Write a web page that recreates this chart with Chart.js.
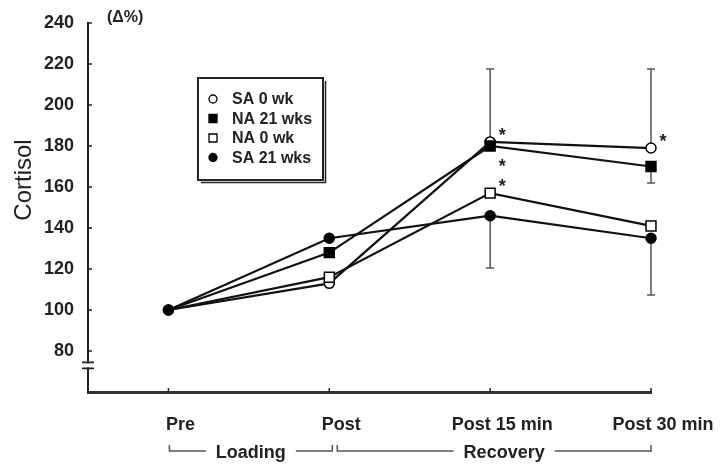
<!DOCTYPE html>
<html>
<head>
<meta charset="utf-8">
<script src="https://cdn.jsdelivr.net/npm/chart.js@4/dist/chart.umd.min.js"></script>
<style>
  body { margin: 0; background: #fff; }
  canvas { display: block; }
</style>
</head>
<body>
<canvas id="cortisol-chart" width="723" height="465"></canvas>
<script>
// time points
const categories = ['Pre', 'Post', 'Post 15 min', 'Post 30 min'];
const yTicks = [80, 100, 120, 140, 160, 180, 200, 220, 240];

// group means (Δ%)
const sa0wk  = [100, 113, 182, 179];
const na21wk = [100, 128, 180, 170];
const na0wk  = [100, 116, 157, 141];
const sa21wk = [100, 135, 146, 135];

// error bar ends (null = none drawn)
const sa0wkErrHigh  = [null, null, 217.6, 217.6];
const na21wkErrLow  = [null, null, null, 162];
const sa21wkErrLow  = [null, null, 120.5, 107.3];

// significance marks: 'up' / 'down' / null
const sa0wkStar  = [null, null, 'up', 'up'];
const na21wkStar = [null, null, 'down', null];
const na0wkStar  = [null, null, 'up', null];

const groups = [
    { label: 'Loading', from: 0, to: 1 },
    { label: 'Recovery', from: 1, to: 3 }
];

const FONT = '"Liberation Sans", Arial, sans-serif';
const toPts = arr => arr.map((v, i) => ({ x: i, y: v }));

// squares are bigger than the circles, so hide them at the shared baseline point
const rectRadius = c => (c.dataIndex === 0 ? 0 : 7);

const mk = (label, vals, style, filled, extra) => Object.assign({
    label,
    data: toPts(vals),
    borderColor: '#111',
    borderWidth: 2.2,
    pointStyle: style,
    pointRadius: style === 'rect' ? rectRadius : 5,
    pointHoverRadius: style === 'rect' ? rectRadius : 5,
    pointBackgroundColor: filled ? '#000' : '#fff',
    pointBorderColor: '#000',
    pointBorderWidth: 1.5,
    tension: 0,
    clip: false
}, extra);

// order: filled markers end up on top
const datasets = [
    mk('SA 0 wk', sa0wk, 'circle', false, { errHigh: sa0wkErrHigh, stars: sa0wkStar, order: 4 }),
    mk('NA 21 wks', na21wk, 'rect', true, { errLow: na21wkErrLow, stars: na21wkStar, order: 2 }),
    mk('NA 0 wk', na0wk, 'rect', false, { stars: na0wkStar, order: 3 }),
    mk('SA 21 wks', sa21wk, 'circle', true, { errLow: sa21wkErrLow, order: 1 })
];

// error bars behind the markers
const errorBars = {
    id: 'errorBars',
    beforeDatasetsDraw(chart) {
        const { ctx, scales: { x, y } } = chart;
        ctx.save();
        ctx.strokeStyle = '#555';
        ctx.lineWidth = 1.5;
        chart.data.datasets.forEach(ds => {
            ['errHigh', 'errLow'].forEach(k => {
                if (!ds[k]) return;
                ds[k].forEach((e, i) => {
                    if (e == null) return;
                    const px = x.getPixelForValue(i);
                    const p0 = y.getPixelForValue(ds.data[i].y);
                    const p1 = y.getPixelForValue(e);
                    ctx.beginPath();
                    ctx.moveTo(px, p0); ctx.lineTo(px, p1);
                    ctx.moveTo(px - 4, p1); ctx.lineTo(px + 4, p1);
                    ctx.stroke();
                });
            });
        });
        ctx.restore();
    }
};

const decorations = {
    id: 'decorations',
    afterDraw(chart) {
        const { ctx, scales: { x, y }, chartArea: a } = chart;
        ctx.save();
        ctx.fillStyle = '#222';
        ctx.strokeStyle = '#222';

        // inward tick marks
        ctx.lineWidth = 1.5;
        yTicks.forEach(v => {
            const py = y.getPixelForValue(v);
            ctx.beginPath(); ctx.moveTo(a.left, py); ctx.lineTo(a.left + 4, py); ctx.stroke();
        });
        categories.forEach((c, i) => {
            const px = x.getPixelForValue(i);
            ctx.beginPath(); ctx.moveTo(px, a.bottom); ctx.lineTo(px, a.bottom - 4); ctx.stroke();
        });

        // axis break
        const by = y.getPixelForValue(73);
        ctx.fillStyle = '#fff';
        ctx.fillRect(a.left - 3, by - 2, 6, 4);
        ctx.lineWidth = 1.8;
        ctx.beginPath();
        ctx.moveTo(a.left - 6, by - 3); ctx.lineTo(a.left + 6, by - 3);
        ctx.moveTo(a.left - 6, by + 3); ctx.lineTo(a.left + 6, by + 3);
        ctx.stroke();

        // axis title and unit
        ctx.fillStyle = '#222';
        ctx.font = '24px ' + FONT;
        ctx.textAlign = 'center';
        ctx.textBaseline = 'middle';
        ctx.save();
        ctx.translate(24, 180);
        ctx.rotate(-Math.PI / 2);
        ctx.fillText('Cortisol', 0, 0);
        ctx.restore();
        ctx.font = 'bold 16px ' + FONT;
        ctx.textAlign = 'left';
        ctx.fillText('(\u0394%)', 107, 18);

        // significance asterisks
        ctx.font = 'bold 18px ' + FONT;
        ctx.textAlign = 'center';
        ctx.textBaseline = 'top';
        chart.data.datasets.forEach(ds => {
            if (!ds.stars) return;
            ds.stars.forEach((s, i) => {
                if (!s) return;
                const px = x.getPixelForValue(i) + 12;
                const py = y.getPixelForValue(ds.data[i].y) + (s === 'up' ? -11 : 16);
                ctx.fillText('*', px, py - 4);
            });
        });

        // Loading / Recovery brackets
        const gy = 451;
        ctx.font = 'bold 18px ' + FONT;
        ctx.textBaseline = 'middle';
        ctx.strokeStyle = '#555';
        ctx.lineWidth = 1.5;
        groups.forEach((g, gi) => {
            const x0 = x.getPixelForValue(g.from) + (gi === 0 ? 1 : 8);
            const x1 = x.getPixelForValue(g.to) + (gi === 0 ? 3 : 0);
            const cx = (x0 + x1) / 2 + (gi === 0 ? 0 : 10);
            const tw = ctx.measureText(g.label).width;
            ctx.beginPath();
            ctx.moveTo(x0, gy - 6); ctx.lineTo(x0, gy); ctx.lineTo(cx - tw / 2 - 10, gy);
            ctx.moveTo(cx + tw / 2 + 10, gy); ctx.lineTo(x1, gy); ctx.lineTo(x1, gy - 6);
            ctx.stroke();
            ctx.fillText(g.label, cx, gy + 2);
        });

        // legend box
        const lx = 198, ly = 78, lw = 125, lh = 102;
        ctx.fillStyle = '#fff';
        ctx.fillRect(lx, ly, lw, lh);
        ctx.strokeStyle = '#222';
        ctx.lineWidth = 2;
        ctx.strokeRect(lx, ly, lw, lh);
        ctx.lineWidth = 1.5;
        ctx.beginPath();
        ctx.moveTo(lx + 3, ly + lh + 2.5); ctx.lineTo(lx + lw + 2.5, ly + lh + 2.5); ctx.lineTo(lx + lw + 2.5, ly + 3);
        ctx.stroke();
        ctx.font = 'bold 16px ' + FONT;
        ctx.textAlign = 'left';
        chart.data.datasets.forEach((ds, i) => {
            const ry = ly + 21 + i * 19.5;
            ctx.fillStyle = ds.pointBackgroundColor;
            ctx.strokeStyle = '#000';
            ctx.lineWidth = 1.3;
            ctx.beginPath();
            if (ds.pointStyle === 'rect') ctx.rect(213 - 4, ry - 4, 8, 8);
            else ctx.arc(213, ry, 4, 0, Math.PI * 2);
            ctx.fill(); ctx.stroke();
            ctx.fillStyle = '#222';
            ctx.fillText(ds.label, 232, ry + 1);
        });
        ctx.restore();
    }
};

new Chart(document.getElementById('cortisol-chart'), {
    type: 'line',
    data: { datasets },
    options: {
        responsive: false,
        devicePixelRatio: 1,
        animation: false,
        events: [],
        layout: { padding: { top: 23, right: 72, bottom: 0, left: 0 } },
        plugins: { legend: { display: false }, tooltip: { enabled: false } },
        scales: {
            x: {
                type: 'linear',
                min: -0.5,
                max: 3,
                afterBuildTicks: s => { s.ticks = categories.map((c, i) => ({ value: i })); },
                afterFit: s => { s.height = 73; },
                grid: { display: false },
                border: { display: true, color: '#333', width: 3 },
                ticks: {
                    callback: v => categories[v],
                    font: { family: FONT, size: 18, weight: 'bold' },
                    color: '#222',
                    padding: 14,
                    labelOffset: 12,
                    maxRotation: 0,
                    autoSkip: false
                }
            },
            y: {
                min: 60,
                max: 240,
                afterBuildTicks: s => { s.ticks = yTicks.map(v => ({ value: v })); },
                afterFit: s => { s.width = 88; },
                grid: { display: false },
                border: { display: true, color: '#222', width: 2 },
                ticks: {
                    font: { family: FONT, size: 18, weight: 'bold' },
                    color: '#222',
                    padding: 6
                }
            }
        }
    },
    plugins: [errorBars, decorations]
});
</script>
</body>
</html>
